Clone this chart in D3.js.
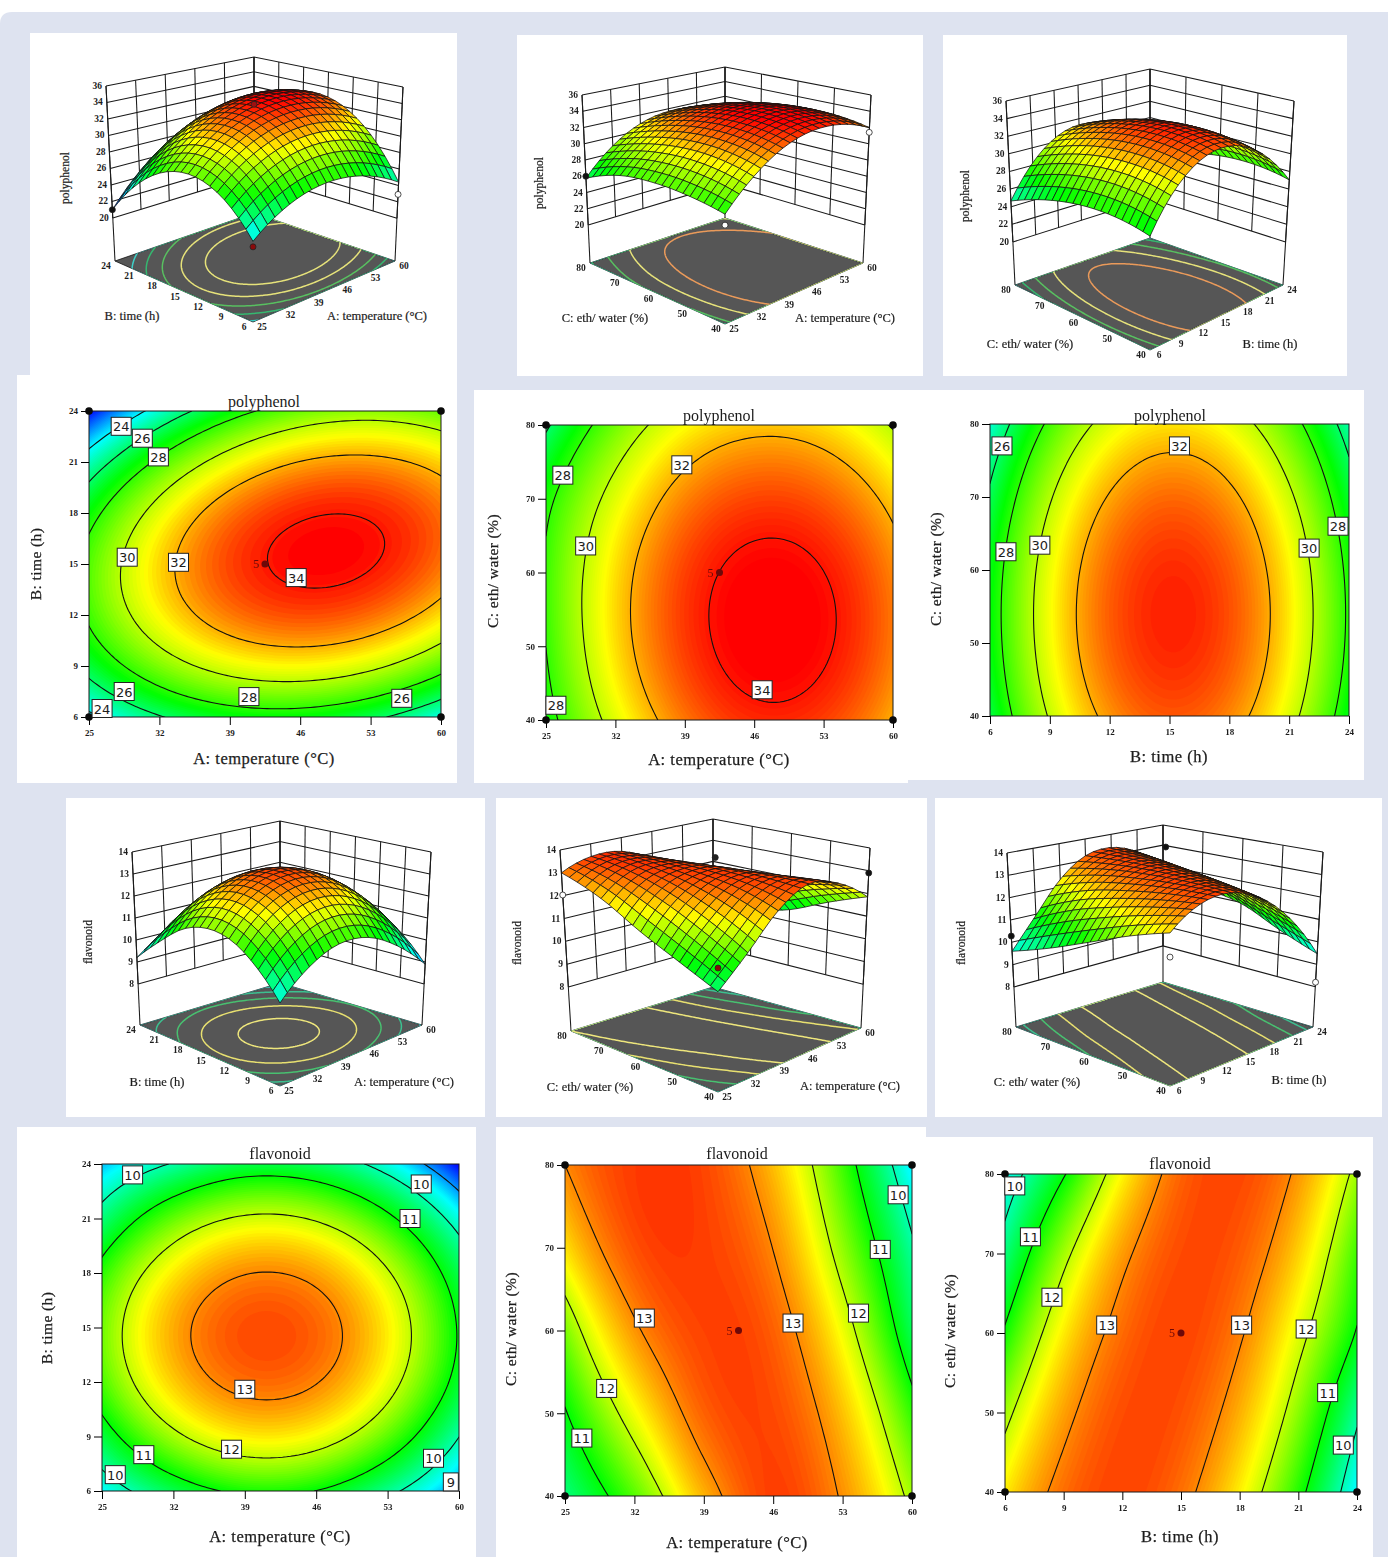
<!DOCTYPE html>
<html>
<head>
<meta charset="utf-8">
<title>polyphenol and flavonoid response surfaces</title>
<script src="https://cdn.jsdelivr.net/npm/d3@7"></script>
<style>
  html, body { margin: 0; background: #fff; }
  svg { display: block; filter: blur(0.35px); }
  text { font-family: "Liberation Serif", serif; fill: #1c1c1c; }
  .tick text { font-size: 9px; font-weight: bold; font-family: "Liberation Serif", serif; }
  .boxLabel { font-family: "DejaVu Sans", sans-serif; font-size: 13px; }
</style>
</head>
<body>
<svg id="chart" width="1388" height="1557"></svg>
<script>
// tick values of the three factors
const tempTicks = [25, 32, 39, 46, 53, 60];
const timeTicks = [6, 9, 12, 15, 18, 21, 24];
const ethTicks = [40, 50, 60, 70, 80];
const polyTicks = [20, 22, 24, 26, 28, 30, 32, 34, 36];
const flavTicks = [8, 9, 10, 11, 12, 13, 14];

// response read at the tick crossings: one row per y tick (low to high), one column per x tick
const polyTempTime = [
  [23.6, 25.88, 27.1, 27.26, 26.36, 24.4],
  [26.61, 29.13, 30.58, 30.97, 30.31, 28.58],
  [28.24, 30.99, 32.68, 33.3, 32.87, 31.37],
  [28.5, 31.48, 33.4, 34.26, 34.06, 32.79],
  [27.37, 30.59, 32.74, 33.83, 33.87, 32.84],
  [24.87, 28.32, 30.7, 32.03, 32.3, 31.5],
  [20.99, 24.67, 27.3, 28.86, 29.36, 28.79]
];
const polyTempEth = [
  [27.4, 30.53, 32.72, 33.71, 33.45, 31.98],
  [28.01, 31.34, 33.47, 34.41, 34.13, 32.66],
  [28.15, 31.34, 33.42, 34.3, 34.01, 32.54],
  [27.6, 30.53, 32.55, 33.37, 33.07, 31.6],
  [25.76, 28.92, 30.89, 31.66, 31.34, 29.87]
];
const polyTimeEth = [
  [26.49, 30.12, 32.33, 33.13, 32.51, 30.48, 27.04],
  [27.16, 30.79, 33.0, 33.8, 33.18, 31.15, 27.71],
  [27.08, 30.71, 32.92, 33.72, 33.1, 31.07, 27.63],
  [26.24, 29.87, 32.08, 32.88, 32.26, 30.23, 26.79],
  [24.65, 28.28, 30.49, 31.29, 30.67, 28.64, 25.2]
];
const flavTempTime = [
  [9.5, 10.57, 11.12, 10.99, 10.19, 8.9],
  [10.65, 11.86, 12.41, 12.28, 11.48, 10.01],
  [11.39, 12.6, 13.15, 13.02, 12.22, 10.75],
  [11.58, 12.8, 13.34, 13.21, 12.41, 10.94],
  [11.22, 12.43, 12.98, 12.85, 12.05, 10.58],
  [10.31, 11.52, 12.07, 11.94, 11.14, 9.67],
  [9.2, 10.05, 10.6, 10.47, 9.67, 8.2]
];
const flavTempEth = [
  [10.3, 11.45, 12.75, 13.42, 12.95, 11.85],
  [10.95, 12.27, 13.22, 13.36, 12.67, 11.25],
  [11.64, 12.92, 13.4, 13.23, 12.25, 10.53],
  [12.48, 13.32, 13.42, 12.99, 11.76, 10.1],
  [13.0, 13.44, 13.38, 12.69, 11.33, 9.39]
];
const flavTimeEth = [
  [12.42, 13.15, 13.39, 13.14, 12.4, 11.19, 9.47],
  [11.83, 12.85, 13.34, 13.31, 12.77, 11.72, 10.14],
  [11.08, 12.42, 13.17, 13.39, 13.05, 12.18, 10.95],
  [10.3, 11.84, 12.88, 13.35, 13.25, 12.58, 11.33],
  [9.6, 10.95, 12.35, 13.21, 13.37, 12.91, 11.83]
];

// contour levels
const polyLevels = [24, 26, 28, 30, 32, 34];
const flavLevels = [9, 10, 11, 12, 13];

// inline contour labels: [x value, y value, level]
const labelsPolyTempTime = [[28.2, 23.1, 24], [30.3, 22.4, 26], [31.9, 21.3, 28], [28.8, 15.4, 30], [33.9, 15.1, 32], [45.6, 14.2, 34], [40.9, 7.2, 28], [28.5, 7.5, 26], [26.3, 6.5, 24], [56.1, 7.1, 26]];
const labelsPolyTempEth = [[26.7, 73.2, 28], [38.7, 74.6, 32], [29.0, 63.6, 30], [46.8, 44.1, 34], [26, 42, 28]];
const labelsPolyTimeEth = [[15.5, 77, 32], [6.6, 77, 26], [6.8, 62.5, 28], [8.5, 63.4, 30], [22, 63, 30], [23.45, 66, 28]];
const labelsFlavTempTime = [[28, 23.4, 10], [56.3, 22.9, 10], [55.2, 21, 11], [39, 11.6, 13], [37.7, 8.3, 12], [29.1, 8, 11], [26.3, 6.9, 10], [57.5, 7.8, 10], [59.2, 6.5, 9]];
const labelsFlavTempEth = [[58.6, 76.4, 10], [56.8, 69.8, 11], [54.6, 62.1, 12], [48, 60.9, 13], [33, 61.5, 13], [29.2, 53, 12], [26.7, 47, 11]];
const labelsFlavTimeEth = [[6.5, 78.5, 10], [7.3, 72.1, 11], [8.4, 64.5, 12], [11.2, 61, 13], [18.1, 61, 13], [21.4, 60.5, 12], [22.5, 52.5, 11], [23.3, 45.9, 10]];

// design points shown on the 3D views: [x value, y value, response, colour]
const pointsPolyTempTime = [[25, 24, 21, "#111"], [60, 6, 22.9, "#fff"], [25, 6, 23, "#8a0a0a"], [42.5, 15, 34.2, "#a01010"]];
const pointsPolyTempEth = [[25, 80, 26, "#111"], [60, 40, 31.4, "#fff"], [25, 40, 26.2, "#fff"]];
const pointsFlavTempEth = [[25, 80, 12.03, "#fff"], [60, 40, 12.9, "#111"], [42.5, 60, 13.9, "#222"], [25, 40, 11.3, "#8a0a0a"]];
const pointsFlavTimeEth = [[6, 80, 10.28, "#111"], [15, 60, 14.4, "#111"], [6, 40, 11.44, "#fff"], [24, 40, 8.2, "#fff"]];

const pageColor = "#dee3f0";
const whiteBoxes = [
  [30, 33, 427, 345], [17, 375, 440, 408], [517, 35, 406, 341], [943, 35, 404, 341],
  [474, 390, 434, 393], [908, 390, 456, 390], [66, 798, 419, 319], [496, 798, 431, 319],
  [935, 798, 447, 319], [17, 1127, 459, 430], [496, 1127, 430, 430], [926, 1137, 447, 420]
];

const TEMP = "A: temperature (°C)";
const TIME = "B: time (h)";
const ETH = "C: eth/ water (%)";
const corners = [[25, 6], [25, 24], [60, 6], [60, 24]];

const polyColor = d3.scaleLinear().domain([20.9, 24, 27.3, 30.9, 34.2]).range(["#0000ff", "#00ffff", "#00ff00", "#ffff00", "#ff0000"]).clamp(true);
const flavColor = d3.scaleLinear().domain([8.2, 9.5, 11, 12.3, 13.75]).range(["#0000ff", "#00ffff", "#00ff00", "#ffff00", "#ff0000"]).clamp(true);

const svg = d3.select("#chart");
svg.append("path")
  .attr("d", "M0,24 Q0,12 12,12 H1388 V1557 H0 Z")
  .attr("fill", pageColor);
svg.selectAll("rect.box").data(whiteBoxes).enter().append("rect")
  .attr("class", "box")
  .attr("x", (d) => d[0]).attr("y", (d) => d[1])
  .attr("width", (d) => d[2]).attr("height", (d) => d[3])
  .attr("fill", "#fff");

// cubic through the read values, only used to draw a smooth sheet between the tick crossings
function cubic(arr, t) {
  const n = arr.length;
  const i = Math.min(Math.floor(t), n - 2);
  const f = t - i;
  const p1 = arr[i];
  const p2 = arr[i + 1];
  const p0 = i > 0 ? arr[i - 1] : 3 * arr[0] - 3 * arr[1] + arr[2];
  const p3 = i < n - 2 ? arr[i + 2] : 3 * arr[n - 1] - 3 * arr[n - 2] + arr[n - 3];
  return 0.5 * (2 * p1 + (p2 - p0) * f + (2 * p0 - 5 * p1 + 4 * p2 - p3) * f * f + (3 * p1 - p0 - 3 * p2 + p3) * f * f * f);
}

function sheet(grid, u, v) {
  const nc = grid[0].length;
  const nr = grid.length;
  const col = grid.map((row) => cubic(row, u * (nc - 1)));
  return cubic(col, v * (nr - 1));
}

function fineValues(grid, n) {
  const vals = new Array(n * n);
  for (let j = 0; j < n; j++) {
    for (let i = 0; i < n; i++) {
      vals[i + j * n] = sheet(grid, i / (n - 1), j / (n - 1));
    }
  }
  return vals;
}

function gridPath(n, toPixel) {
  return d3.geoPath(d3.geoTransform({
    point(x, y) {
      const p = toPixel((x - 0.5) / (n - 1), (y - 0.5) / (n - 1));
      this.stream.point(p[0], p[1]);
    }
  }));
}

let clipCount = 0;

function contourPanel(c) {
  const g = svg.append("g");
  const xs = d3.scaleLinear().domain(d3.extent(c.xTicks)).range([c.box[0], c.box[1]]);
  const ys = d3.scaleLinear().domain(d3.extent(c.yTicks)).range([c.box[3], c.box[2]]);
  const n = 90;
  const vals = fineValues(c.grid, n);
  const [lo, hi] = d3.extent(vals);
  const path = gridPath(n, (u, v) => [c.box[0] + u * (c.box[1] - c.box[0]), c.box[3] - v * (c.box[3] - c.box[2])]);
  const clipId = "clip" + clipCount++;
  const w = c.box[1] - c.box[0];
  const h = c.box[3] - c.box[2];

  svg.append("clipPath").attr("id", clipId).append("rect")
    .attr("x", c.box[0]).attr("y", c.box[2]).attr("width", w).attr("height", h);

  const plot = g.append("g").attr("clip-path", `url(#${clipId})`);
  plot.append("rect").attr("x", c.box[0]).attr("y", c.box[2]).attr("width", w).attr("height", h).attr("fill", c.color(lo));

  const bands = d3.contours().size([n, n]).thresholds(d3.range(lo, hi, (hi - lo) / 90))(vals);
  plot.selectAll("path.band").data(bands).enter().append("path")
    .attr("class", "band").attr("d", path).attr("fill", (d) => c.color(d.value));

  const lines = d3.contours().size([n, n]).thresholds(c.levels)(vals);
  plot.selectAll("path.level").data(lines).enter().append("path")
    .attr("class", "level").attr("d", path).attr("fill", "none").attr("stroke", "#111").attr("stroke-width", 1.1);

  g.append("rect").attr("x", c.box[0]).attr("y", c.box[2]).attr("width", w).attr("height", h)
    .attr("fill", "none").attr("stroke", "#1a1a1a").attr("stroke-width", 1);

  const xAxis = d3.axisBottom(xs).tickValues(c.xTicks).tickSize(8).tickPadding(5).tickSizeOuter(0);
  const yAxis = d3.axisLeft(ys).tickValues(c.yTicks).tickSize(8).tickPadding(3).tickSizeOuter(0);
  g.append("g").attr("transform", `translate(0,${c.box[3]})`).call(xAxis).call((a) => a.select(".domain").remove());
  g.append("g").attr("transform", `translate(${c.box[0]},0)`).call(yAxis).call((a) => a.select(".domain").remove());

  // design points
  g.selectAll("circle.corner").data(c.corners).enter().append("circle")
    .attr("class", "corner").attr("cx", (d) => xs(d[0])).attr("cy", (d) => ys(d[1])).attr("r", 3.8).attr("fill", "#0a0a0a");
  if (c.center) {
    g.append("circle").attr("cx", xs(c.center[0])).attr("cy", ys(c.center[1])).attr("r", 3.5).attr("fill", "#6e0808");
    g.append("text").attr("x", xs(c.center[0]) - 6).attr("y", ys(c.center[1]) + 4)
      .attr("text-anchor", "end").attr("font-size", 12).style("fill", "#6e0808").text("5");
  }

  // labels sitting on the contour lines
  const tag = g.selectAll("g.tag").data(c.labels).enter().append("g").attr("class", "tag")
    .attr("transform", (d) => `translate(${xs(d[0])},${ys(d[1])})`);
  tag.append("rect")
    .attr("x", (d) => (d[2] < 10 ? -7.5 : -10)).attr("y", -9)
    .attr("width", (d) => (d[2] < 10 ? 15 : 20)).attr("height", 18)
    .attr("fill", "#fff").attr("stroke", "#222").attr("stroke-width", 1);
  tag.append("text").attr("class", "boxLabel").attr("text-anchor", "middle").attr("y", 5).text((d) => d[2]);

  g.append("text").attr("x", c.title[0]).attr("y", c.title[1]).attr("text-anchor", "middle").attr("font-size", 16).text(c.name);
  g.append("text").attr("x", c.xLabel[0]).attr("y", c.xLabel[1]).attr("text-anchor", "middle").attr("dy", "0.35em")
    .attr("font-size", 16.5).attr("letter-spacing", 0.5).attr("stroke", "#1c1c1c").attr("stroke-width", 0.25).text(c.xName);
  g.append("text").attr("transform", `translate(${c.yLabel[0]},${c.yLabel[1]}) rotate(-90)`).attr("text-anchor", "middle").attr("dy", "0.35em")
    .attr("font-size", 15.5).attr("letter-spacing", 0.4).attr("stroke", "#1c1c1c").attr("stroke-width", 0.25).text(c.yName);
}

function lerp(a, b, t) {
  return [a[0] + (b[0] - a[0]) * t, a[1] + (b[1] - a[1]) * t];
}

function surfacePanel(c) {
  const g = svg.append("g");
  const ux = d3.scaleLinear().domain(d3.extent(c.xTicks)).range([0, 1]);
  const vy = d3.scaleLinear().domain(d3.extent(c.yTicks)).range([0, 1]);
  const hz = d3.scaleLinear().domain(d3.extent(c.zTicks)).range([c.h0, 1]);

  const planar = (q, u, v) => lerp(lerp(q.front, q.right, u), lerp(q.left, q.back, u), v);
  const place = (u, v, h) => lerp(planar(c.floor, u, v), planar(c.top, u, v), h);
  const line = d3.line();
  const thin = (pts, width) => g.append("path").attr("d", line(pts)).attr("fill", "none").attr("stroke", "#1a1a1a").attr("stroke-width", width);

  // back walls
  c.zTicks.forEach((z) => {
    thin([place(0, 1, hz(z)), place(1, 1, hz(z)), place(1, 0, hz(z))], 1.05);
  });
  const zLow = hz(c.zTicks[0]);
  c.xTicks.forEach((t) => thin([place(ux(t), 1, zLow), place(ux(t), 1, 1)], 1.05));
  c.yTicks.forEach((t) => thin([place(1, vy(t), zLow), place(1, vy(t), 1)], 1.05));
  thin([place(0, 1, 0), place(0, 1, 1)], 1.05);
  thin([place(1, 1, 0), place(1, 1, 1)], 1.05);
  thin([place(1, 0, 0), place(1, 0, 1)], 1.05);

  // floor with the contour lines
  const floorPts = [planar(c.floor, 0, 0), planar(c.floor, 1, 0), planar(c.floor, 1, 1), planar(c.floor, 0, 1)];
  g.append("path").attr("d", line(floorPts) + "Z").attr("fill", "#565656").attr("stroke", "#111").attr("stroke-width", 0.8);
  const clipId = "clip" + clipCount++;
  svg.append("clipPath").attr("id", clipId).append("path").attr("d", line(floorPts) + "Z");
  const n = 90;
  const path = gridPath(n, (u, v) => planar(c.floor, u, v));
  const rings = d3.contours().size([n, n]).thresholds(c.floorLevels)(fineValues(c.grid, n));
  g.append("g").attr("clip-path", `url(#${clipId})`).selectAll("path").data(rings).enter().append("path")
    .attr("d", path).attr("fill", "none").attr("stroke-width", 1.5)
    .attr("stroke", (d) => c.floorColors[c.floorLevels.indexOf(d.value)]);

  // tick labels
  c.zTicks.forEach((z) => {
    const p = place(0, 1, hz(z));
    g.append("text").attr("x", p[0] - 4).attr("y", p[1] + 3).attr("text-anchor", "end").attr("font-size", 9.5).attr("font-weight", "bold").text(z);
  });
  c.xTicks.forEach((t) => {
    const p = planar(c.floor, ux(t), 0);
    g.append("text").attr("x", p[0] + 9).attr("y", p[1] + 8).attr("text-anchor", "middle").attr("font-size", 9.5).attr("font-weight", "bold").text(t);
  });
  c.yTicks.forEach((t) => {
    const p = planar(c.floor, 0, vy(t));
    g.append("text").attr("x", p[0] - 9).attr("y", p[1] + 8).attr("text-anchor", "middle").attr("font-size", 9.5).attr("font-weight", "bold").text(t);
  });

  // surface mesh, far cells first
  const cells = [];
  const steps = c.steps;
  for (let j = 0; j < steps; j++) {
    for (let i = 0; i < steps; i++) {
      const corner = [[i, j], [i + 1, j], [i + 1, j + 1], [i, j + 1]].map(([a, b]) => {
        const u = a / steps;
        const v = b / steps;
        const z = sheet(c.grid, u, v);
        return { z, p: place(u, v, hz(z)) };
      });
      cells.push({ order: i + j, z: d3.mean(corner, (d) => d.z), pts: corner.map((d) => d.p) });
    }
  }
  cells.sort((a, b) => b.order - a.order);
  g.selectAll("path.cell").data(cells).enter().append("path")
    .attr("class", "cell").attr("d", (d) => line(d.pts) + "Z")
    .attr("fill", (d) => c.color(d.z)).attr("stroke", "#111").attr("stroke-width", 0.75);

  // design points
  g.selectAll("circle.pt").data(c.points).enter().append("circle")
    .attr("class", "pt")
    .attr("cx", (d) => place(ux(d[0]), vy(d[1]), hz(d[2]))[0])
    .attr("cy", (d) => place(ux(d[0]), vy(d[1]), hz(d[2]))[1])
    .attr("r", 3).attr("fill", (d) => d[3]).attr("stroke", "#222").attr("stroke-width", 0.8);

  const label = (pos, txt) => g.append("text").attr("x", pos[0]).attr("y", pos[1]).attr("text-anchor", "middle").attr("dy", "0.35em").attr("font-size", 12.5).attr("stroke", "#1c1c1c").attr("stroke-width", 0.2).text(txt);
  label(c.leftLabel, c.yName);
  label(c.rightLabel, c.xName);
  g.append("text").attr("transform", `translate(${c.zLabel[0]},${c.zLabel[1]}) rotate(-90)`).attr("text-anchor", "middle").attr("dy", "0.35em").attr("font-size", 11.5).attr("stroke", "#1c1c1c").attr("stroke-width", 0.2).text(c.name);
}

const polyFloor = ["#3fd0c8", "#35b870", "#58c060", "#e6e27a", "#ea9a5a"];
const polyRingLevels = [24, 26, 28, 30, 32];
const flavFloor = ["#40d0c8", "#3cc090", "#48c070", "#e8e070", "#eee67c"];
const flavRingLevels = [9, 10, 11, 12, 13];

surfacePanel({
  name: "polyphenol", grid: polyTempTime, color: polyColor, steps: 20,
  xTicks: tempTicks, yTicks: timeTicks, zTicks: polyTicks, xName: TEMP, yName: TIME,
  floor: { front: [253, 322], right: [395, 261], left: [115, 261], back: [254, 213] },
  top: { front: [253, 128], right: [403, 87], left: [106, 86], back: [254, 57] },
  h0: 0.246, floorLevels: polyRingLevels, floorColors: ["#3fd0c8", "#35b870", "#58c060", "#e6e27a", "#e6e27a"],
  points: pointsPolyTempTime, leftLabel: [132, 316], rightLabel: [377, 316], zLabel: [65, 178]
});
surfacePanel({
  name: "polyphenol", grid: polyTempEth, color: polyColor, steps: 20,
  xTicks: tempTicks, yTicks: ethTicks, zTicks: polyTicks, xName: TEMP, yName: ETH,
  floor: { front: [725, 324], right: [863, 263], left: [590, 263], back: [725, 218] },
  top: { front: [725, 136], right: [871, 95], left: [582, 95], back: [725, 67] },
  h0: 0.226, floorLevels: polyRingLevels, floorColors: polyFloor,
  points: pointsPolyTempEth, leftLabel: [605, 318], rightLabel: [845, 318], zLabel: [539, 183]
});
surfacePanel({
  name: "polyphenol", grid: polyTimeEth, color: polyColor, steps: 20,
  xTicks: timeTicks, yTicks: ethTicks, zTicks: polyTicks, xName: TIME, yName: ETH,
  floor: { front: [1150, 350], right: [1283, 285], left: [1015, 285], back: [1150, 238] },
  top: { front: [1150, 141], right: [1294, 101], left: [1006, 101], back: [1150, 69] },
  h0: 0.234, floorLevels: polyRingLevels, floorColors: polyFloor,
  points: [], leftLabel: [1030, 344], rightLabel: [1270, 344], zLabel: [965, 196]
});
surfacePanel({
  name: "flavonoid", grid: flavTempTime, color: flavColor, steps: 20,
  xTicks: tempTicks, yTicks: timeTicks, zTicks: flavTicks, xName: TEMP, yName: TIME,
  floor: { front: [280, 1086], right: [422, 1025], left: [140, 1025], back: [280, 983] },
  top: { front: [280, 892], right: [431, 852], left: [132, 852], back: [280, 821] },
  h0: 0.237, floorLevels: flavRingLevels, floorColors: flavFloor,
  points: [], leftLabel: [157, 1082], rightLabel: [404, 1082], zLabel: [88, 942]
});
surfacePanel({
  name: "flavonoid", grid: flavTempEth, color: flavColor, steps: 20,
  xTicks: tempTicks, yTicks: ethTicks, zTicks: flavTicks, xName: TEMP, yName: ETH,
  floor: { front: [718, 1092], right: [861, 1028], left: [571, 1031], back: [713, 987] },
  top: { front: [718, 904], right: [870, 848], left: [560, 850], back: [713, 819] },
  h0: 0.243, floorLevels: flavRingLevels, floorColors: flavFloor,
  points: pointsFlavTempEth, leftLabel: [590, 1087], rightLabel: [850, 1086], zLabel: [517, 943]
});
surfacePanel({
  name: "flavonoid", grid: flavTimeEth, color: flavColor, steps: 20,
  xTicks: timeTicks, yTicks: ethTicks, zTicks: flavTicks, xName: TIME, yName: ETH,
  floor: { front: [1170, 1086], right: [1313, 1027], left: [1016, 1027], back: [1163, 982] },
  top: { front: [1170, 894], right: [1323, 852], left: [1007, 853], back: [1163, 825] },
  h0: 0.23, floorLevels: flavRingLevels, floorColors: flavFloor,
  points: pointsFlavTimeEth, leftLabel: [1037, 1082], rightLabel: [1299, 1080], zLabel: [961, 943]
});

contourPanel({
  name: "polyphenol", grid: polyTempTime, color: polyColor, levels: polyLevels, labels: labelsPolyTempTime,
  xTicks: tempTicks, yTicks: timeTicks, xName: TEMP, yName: TIME,
  box: [89, 441, 411, 717], title: [264, 407], xLabel: [264, 758], yLabel: [36, 564],
  corners: corners, center: [42.5, 15]
});
contourPanel({
  name: "polyphenol", grid: polyTempEth, color: polyColor, levels: polyLevels, labels: labelsPolyTempEth,
  xTicks: tempTicks, yTicks: ethTicks, xName: TEMP, yName: ETH,
  box: [546, 893, 425, 720], title: [719, 421], xLabel: [719, 759], yLabel: [493, 571],
  corners: [[25, 40], [25, 80], [60, 40], [60, 80]], center: [42.5, 60]
});
contourPanel({
  name: "polyphenol", grid: polyTimeEth, color: polyColor, levels: polyLevels, labels: labelsPolyTimeEth,
  xTicks: timeTicks, yTicks: ethTicks, xName: TIME, yName: ETH,
  box: [990, 1349, 424, 716], title: [1170, 421], xLabel: [1169, 756], yLabel: [936, 569],
  corners: [], center: null
});
contourPanel({
  name: "flavonoid", grid: flavTempTime, color: flavColor, levels: flavLevels, labels: labelsFlavTempTime,
  xTicks: tempTicks, yTicks: timeTicks, xName: TEMP, yName: TIME,
  box: [102, 459, 1164, 1491], title: [280, 1159], xLabel: [280, 1536], yLabel: [47, 1328],
  corners: [], center: null
});
contourPanel({
  name: "flavonoid", grid: flavTempEth, color: flavColor, levels: flavLevels, labels: labelsFlavTempEth,
  xTicks: tempTicks, yTicks: ethTicks, xName: TEMP, yName: ETH,
  box: [565, 912, 1165, 1496], title: [737, 1159], xLabel: [737, 1542], yLabel: [511, 1329],
  corners: [[25, 40], [25, 80], [60, 40], [60, 80]], center: [42.5, 60]
});
contourPanel({
  name: "flavonoid", grid: flavTimeEth, color: flavColor, levels: flavLevels, labels: labelsFlavTimeEth,
  xTicks: timeTicks, yTicks: ethTicks, xName: TIME, yName: ETH,
  box: [1005, 1357, 1174, 1492], title: [1180, 1169], xLabel: [1180, 1536], yLabel: [950, 1331],
  corners: [[6, 40], [6, 80], [24, 40], [24, 80]], center: [15, 60]
});
</script>
</body>
</html>
